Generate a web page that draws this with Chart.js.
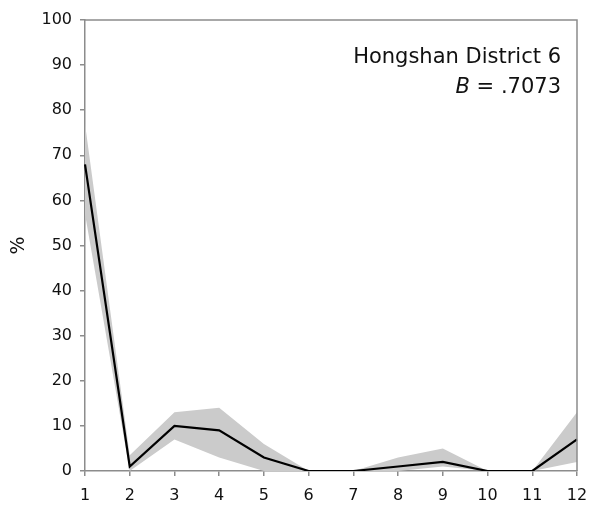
<!DOCTYPE html>
<html>
<head>
<meta charset="utf-8">
<script src="https://cdn.jsdelivr.net/npm/chart.js@4/dist/chart.umd.min.js"></script>
<style>
  html, body { margin: 0; padding: 0; background: #fff; }
  #wrap { width: 592px; height: 505px; }
</style>
</head>
<body>
<div id="wrap"><canvas id="c" width="592" height="505"></canvas></div>
<script>
const categories = ['1','2','3','4','5','6','7','8','9','10','11','12'];
const meanValues = [68, 1, 10, 9, 3, 0, 0, 1, 2, 0, 0, 7];
const upperValues = [77, 3.5, 13, 14, 6, 0, 0, 3, 5, 0, 0, 13];
const lowerValues = [57, 0, 7, 3, 0, 0, 0, 0, 1, 0, 0, 2];
const yTicks = [0, 10, 20, 30, 40, 50, 60, 70, 80, 90, 100];
const titleLine = 'Hongshan District 6';
const statLabel = 'B';
const statValue = ' = .7073';

const FONT = '"DejaVu Sans", Verdana, sans-serif';
const AXIS_GREY = '#8c8c8c';

// frame around the plot area plus the corner annotation
const framePlugin = {
  id: 'frame',
  afterDraw(chart) {
    const { ctx, chartArea: a } = chart;
    ctx.save();
    ctx.strokeStyle = AXIS_GREY;
    ctx.lineWidth = 1.5;
    ctx.beginPath();
    ctx.moveTo(a.left, a.top);
    ctx.lineTo(a.right, a.top);
    ctx.lineTo(a.right, a.bottom);
    ctx.stroke();

    ctx.fillStyle = '#111';
    ctx.textAlign = 'right';
    ctx.textBaseline = 'alphabetic';
    const rx = a.right - 16;
    ctx.font = '21px ' + FONT;
    ctx.fillText(titleLine, rx, a.top + 43);
    const w = ctx.measureText(statValue).width;
    ctx.fillText(statValue, rx, a.top + 73);
    ctx.font = 'italic 21px ' + FONT;
    ctx.fillText(statLabel, rx - w, a.top + 73);
    ctx.restore();
  }
};

new Chart(document.getElementById('c'), {
  type: 'line',
  data: {
    labels: categories,
    datasets: [
      {
        label: 'mean',
        data: meanValues,
        borderColor: '#000',
        borderWidth: 2.2,
        pointRadius: 0,
        fill: false,
        tension: 0,
        order: 0
      },
      {
        label: 'upper',
        data: upperValues,
        borderColor: 'rgba(0,0,0,0)',
        borderWidth: 0,
        backgroundColor: '#cbcbcb',
        pointRadius: 0,
        fill: '+1',
        tension: 0,
        order: 1
      },
      {
        label: 'lower',
        data: lowerValues,
        borderColor: 'rgba(0,0,0,0)',
        borderWidth: 0,
        pointRadius: 0,
        fill: false,
        tension: 0,
        order: 2
      }
    ]
  },
  options: {
    responsive: false,
    animation: false,
    layout: { padding: { top: 20, right: 15, left: 0, bottom: 0 } },
    plugins: {
      legend: { display: false },
      tooltip: { enabled: false },
      filler: { propagate: false }
    },
    scales: {
      x: {
        offset: false,
        grid: {
          display: true,
          drawOnChartArea: false,
          drawTicks: true,
          tickLength: 5,
          color: AXIS_GREY,
          lineWidth: 1.5
        },
        border: { display: true, color: AXIS_GREY, width: 1.5 },
        ticks: {
          color: '#111',
          font: { family: FONT, size: 16 },
          padding: 10,
          maxRotation: 0,
          autoSkip: false
        },
        afterFit(scale) {
          scale.height = 34;
          scale.paddingLeft = 0;
          scale.paddingRight = 0;
        }
      },
      y: {
        min: 0,
        max: 100,
        afterBuildTicks(scale) { scale.ticks = yTicks.map(v => ({ value: v })); },
        grid: {
          display: true,
          drawOnChartArea: false,
          drawTicks: true,
          tickLength: 5,
          color: AXIS_GREY,
          lineWidth: 1.5
        },
        border: { display: true, color: AXIS_GREY, width: 1.5 },
        ticks: {
          color: '#111',
          font: { family: FONT, size: 16 },
          padding: 8
        },
        title: {
          display: true,
          text: '%',
          color: '#111',
          font: { family: FONT, size: 19 },
          padding: { top: 8, bottom: 0 }
        },
        afterFit(scale) {
          scale.width = 85;
          scale.paddingTop = 0;
          scale.paddingBottom = 0;
        }
      }
    }
  },
  plugins: [framePlugin]
});
</script>
</body>
</html>
